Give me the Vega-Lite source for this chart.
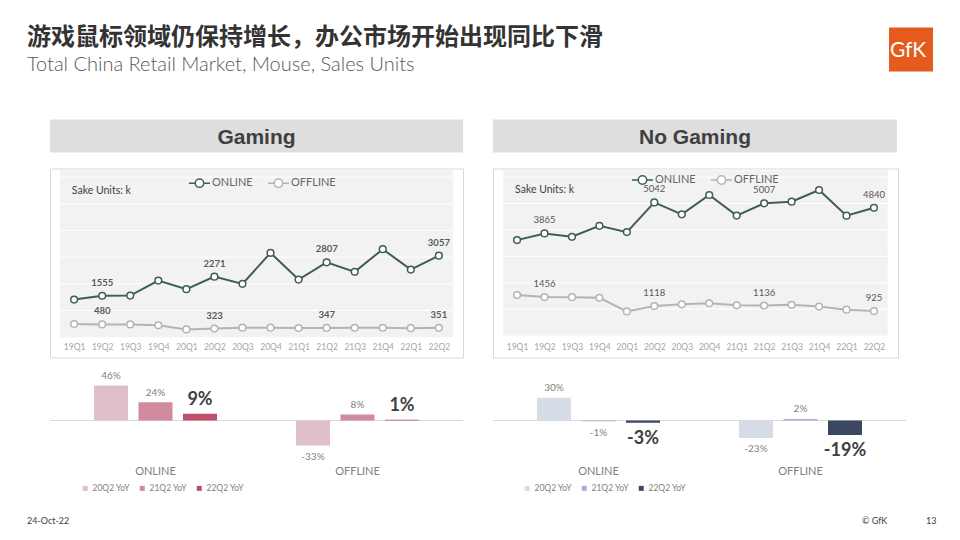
{
  "$schema": "https://vega.github.io/schema/vega-lite/v6.json",
  "background": "white",
  "padding": {"left": 27, "top": 25.5, "right": 27, "bottom": 14},
  "datasets": {
    "lines": [
      {"panel": "Gaming", "q": "19Q1", "channel": "ONLINE", "units": 1412},
      {"panel": "Gaming", "q": "19Q2", "channel": "ONLINE", "units": 1555},
      {"panel": "Gaming", "q": "19Q3", "channel": "ONLINE", "units": 1560},
      {"panel": "Gaming", "q": "19Q4", "channel": "ONLINE", "units": 2125},
      {"panel": "Gaming", "q": "20Q1", "channel": "ONLINE", "units": 1800},
      {"panel": "Gaming", "q": "20Q2", "channel": "ONLINE", "units": 2271},
      {"panel": "Gaming", "q": "20Q3", "channel": "ONLINE", "units": 2000},
      {"panel": "Gaming", "q": "20Q4", "channel": "ONLINE", "units": 3162},
      {"panel": "Gaming", "q": "21Q1", "channel": "ONLINE", "units": 2162},
      {"panel": "Gaming", "q": "21Q2", "channel": "ONLINE", "units": 2807},
      {"panel": "Gaming", "q": "21Q3", "channel": "ONLINE", "units": 2450},
      {"panel": "Gaming", "q": "21Q4", "channel": "ONLINE", "units": 3300},
      {"panel": "Gaming", "q": "22Q1", "channel": "ONLINE", "units": 2537},
      {"panel": "Gaming", "q": "22Q2", "channel": "ONLINE", "units": 3057},
      {"panel": "Gaming", "q": "19Q1", "channel": "OFFLINE", "units": 495},
      {"panel": "Gaming", "q": "19Q2", "channel": "OFFLINE", "units": 480},
      {"panel": "Gaming", "q": "19Q3", "channel": "OFFLINE", "units": 478},
      {"panel": "Gaming", "q": "19Q4", "channel": "OFFLINE", "units": 448},
      {"panel": "Gaming", "q": "20Q1", "channel": "OFFLINE", "units": 290},
      {"panel": "Gaming", "q": "20Q2", "channel": "OFFLINE", "units": 323},
      {"panel": "Gaming", "q": "20Q3", "channel": "OFFLINE", "units": 358},
      {"panel": "Gaming", "q": "20Q4", "channel": "OFFLINE", "units": 356},
      {"panel": "Gaming", "q": "21Q1", "channel": "OFFLINE", "units": 345},
      {"panel": "Gaming", "q": "21Q2", "channel": "OFFLINE", "units": 347},
      {"panel": "Gaming", "q": "21Q3", "channel": "OFFLINE", "units": 352},
      {"panel": "Gaming", "q": "21Q4", "channel": "OFFLINE", "units": 354},
      {"panel": "Gaming", "q": "22Q1", "channel": "OFFLINE", "units": 340},
      {"panel": "Gaming", "q": "22Q2", "channel": "OFFLINE", "units": 351},
      {"panel": "No Gaming", "q": "19Q1", "channel": "ONLINE", "units": 3613},
      {"panel": "No Gaming", "q": "19Q2", "channel": "ONLINE", "units": 3865},
      {"panel": "No Gaming", "q": "19Q3", "channel": "ONLINE", "units": 3739},
      {"panel": "No Gaming", "q": "19Q4", "channel": "ONLINE", "units": 4155},
      {"panel": "No Gaming", "q": "20Q1", "channel": "ONLINE", "units": 3916},
      {"panel": "No Gaming", "q": "20Q2", "channel": "ONLINE", "units": 5042},
      {"panel": "No Gaming", "q": "20Q3", "channel": "ONLINE", "units": 4591},
      {"panel": "No Gaming", "q": "20Q4", "channel": "ONLINE", "units": 5322},
      {"panel": "No Gaming", "q": "21Q1", "channel": "ONLINE", "units": 4541},
      {"panel": "No Gaming", "q": "21Q2", "channel": "ONLINE", "units": 5007},
      {"panel": "No Gaming", "q": "21Q3", "channel": "ONLINE", "units": 5070},
      {"panel": "No Gaming", "q": "21Q4", "channel": "ONLINE", "units": 5511},
      {"panel": "No Gaming", "q": "22Q1", "channel": "ONLINE", "units": 4538},
      {"panel": "No Gaming", "q": "22Q2", "channel": "ONLINE", "units": 4840},
      {"panel": "No Gaming", "q": "19Q1", "channel": "OFFLINE", "units": 1532},
      {"panel": "No Gaming", "q": "19Q2", "channel": "OFFLINE", "units": 1456},
      {"panel": "No Gaming", "q": "19Q3", "channel": "OFFLINE", "units": 1450},
      {"panel": "No Gaming", "q": "19Q4", "channel": "OFFLINE", "units": 1431},
      {"panel": "No Gaming", "q": "20Q1", "channel": "OFFLINE", "units": 914},
      {"panel": "No Gaming", "q": "20Q2", "channel": "OFFLINE", "units": 1118},
      {"panel": "No Gaming", "q": "20Q3", "channel": "OFFLINE", "units": 1181},
      {"panel": "No Gaming", "q": "20Q4", "channel": "OFFLINE", "units": 1219},
      {"panel": "No Gaming", "q": "21Q1", "channel": "OFFLINE", "units": 1143},
      {"panel": "No Gaming", "q": "21Q2", "channel": "OFFLINE", "units": 1136},
      {"panel": "No Gaming", "q": "21Q3", "channel": "OFFLINE", "units": 1161},
      {"panel": "No Gaming", "q": "21Q4", "channel": "OFFLINE", "units": 1098},
      {"panel": "No Gaming", "q": "22Q1", "channel": "OFFLINE", "units": 980},
      {"panel": "No Gaming", "q": "22Q2", "channel": "OFFLINE", "units": 925}
    ],
    "bars": [
      {"panel": "Gaming", "channel": "ONLINE", "period": "20Q2 YoY", "yoy": 0.46},
      {"panel": "Gaming", "channel": "ONLINE", "period": "21Q2 YoY", "yoy": 0.24},
      {"panel": "Gaming", "channel": "ONLINE", "period": "22Q2 YoY", "yoy": 0.09},
      {"panel": "Gaming", "channel": "OFFLINE", "period": "20Q2 YoY", "yoy": -0.33},
      {"panel": "Gaming", "channel": "OFFLINE", "period": "21Q2 YoY", "yoy": 0.08},
      {"panel": "Gaming", "channel": "OFFLINE", "period": "22Q2 YoY", "yoy": 0.01},
      {"panel": "No Gaming", "channel": "ONLINE", "period": "20Q2 YoY", "yoy": 0.30},
      {"panel": "No Gaming", "channel": "ONLINE", "period": "21Q2 YoY", "yoy": -0.01},
      {"panel": "No Gaming", "channel": "ONLINE", "period": "22Q2 YoY", "yoy": -0.03},
      {"panel": "No Gaming", "channel": "OFFLINE", "period": "20Q2 YoY", "yoy": -0.23},
      {"panel": "No Gaming", "channel": "OFFLINE", "period": "21Q2 YoY", "yoy": 0.02},
      {"panel": "No Gaming", "channel": "OFFLINE", "period": "22Q2 YoY", "yoy": -0.19}
    ]
  },
  "spacing": 16,
  "resolve": {"scale": {"color": "independent", "xOffset": "independent"}, "legend": {"color": "independent"}},
  "vconcat": [
    {
      "hconcat": [
        {
          "width": 810, "height": 76,
          "view": {"stroke": null},
          "data": {"values": []},
          "mark": "point",
          "title": {
            "text": "游戏鼠标领域仍保持增长，办公市场开始出现同比下滑",
            "subtitle": "Total China Retail Market, Mouse, Sales Units",
            "orient": "bottom", "anchor": "start", "frame": "group",
            "offset": -77.5, "dx": -23, "baseline": "top",
            "font": "Noto Sans CJK SC", "fontSize": 24, "fontWeight": "bold", "color": "#333333",
            "subtitleFont": "Lato", "subtitleFontSize": 20, "subtitleFontWeight": 300,
            "subtitleColor": "#595959", "subtitlePadding": 5
          }
        },
        {
          "width": 44, "height": 44,
          "view": {"fill": "#E55B1D", "stroke": null},
          "data": {"values": [{"brand": "GfK"}]},
          "mark": {"type": "text", "color": "white", "font": "Lato", "fontSize": 21, "dx": -3, "dy": 1.3},
          "encoding": {"text": {"field": "brand"}}
        }
      ],
      "spacing": 29,
      "resolve": {"scale": {"color": "independent", "xOffset": "independent"}, "legend": {"color": "independent"}}
    },
    {
      "hconcat": [
        {
          "vconcat": [
            {
              "width": 413, "height": 33,
              "view": {"fill": "#dedede", "stroke": null},
              "data": {"values": [{"panel": "Gaming"}]},
              "mark": {"type": "text", "font": "Liberation Sans", "fontSize": 21, "fontWeight": "bold", "color": "#404040", "dy": 1.5},
              "encoding": {"text": {"field": "panel"}}
            },
            {
              "width": 413, "height": 189,
              "view": {"stroke": "#d9d9d9", "strokeWidth": 1, "fill": "white"},
              "layer": [
                {"data": {"values": [{}]}, "mark": {"type": "rect", "color": "#f2f2f2", "xOffset": -14, "x2Offset": 14},
                 "encoding": {"x": {"datum": "19Q1", "type": "ordinal", "title": null}, "x2": {"datum": "22Q2"}, "y": {"datum": 0, "type": "quantitative", "axis": null}, "y2": {"datum": 6250}}},
                {"data": {"values": [{}]}, "mark": {"type": "rule", "color": "white", "strokeWidth": 1, "xOffset": -14, "x2Offset": 14},
                 "encoding": {"x": {"datum": "19Q1", "type": "ordinal", "title": null}, "x2": {"datum": "22Q2"}, "y": {"datum": 1000, "type": "quantitative", "axis": null}}},
                {"data": {"values": [{}]}, "mark": {"type": "rule", "color": "white", "strokeWidth": 1, "xOffset": -14, "x2Offset": 14},
                 "encoding": {"x": {"datum": "19Q1", "type": "ordinal", "title": null}, "x2": {"datum": "22Q2"}, "y": {"datum": 2000, "type": "quantitative", "axis": null}}},
                {"data": {"values": [{}]}, "mark": {"type": "rule", "color": "white", "strokeWidth": 1, "xOffset": -14, "x2Offset": 14},
                 "encoding": {"x": {"datum": "19Q1", "type": "ordinal", "title": null}, "x2": {"datum": "22Q2"}, "y": {"datum": 3000, "type": "quantitative", "axis": null}}},
                {"data": {"values": [{}]}, "mark": {"type": "rule", "color": "white", "strokeWidth": 1, "xOffset": -14, "x2Offset": 14},
                 "encoding": {"x": {"datum": "19Q1", "type": "ordinal", "title": null}, "x2": {"datum": "22Q2"}, "y": {"datum": 4000, "type": "quantitative", "axis": null}}},
                {"data": {"values": [{}]}, "mark": {"type": "rule", "color": "white", "strokeWidth": 1, "xOffset": -14, "x2Offset": 14},
                 "encoding": {"x": {"datum": "19Q1", "type": "ordinal", "title": null}, "x2": {"datum": "22Q2"}, "y": {"datum": 5000, "type": "quantitative", "axis": null}}},
                {"data": {"values": [{}]}, "mark": {"type": "rule", "color": "white", "strokeWidth": 1, "xOffset": -14, "x2Offset": 14},
                 "encoding": {"x": {"datum": "19Q1", "type": "ordinal", "title": null}, "x2": {"datum": "22Q2"}, "y": {"datum": 6000, "type": "quantitative", "axis": null}}},
                {"data": {"name": "lines"}, "transform": [{"filter": "datum.panel === 'Gaming'"}],
                 "mark": {"type": "line", "strokeWidth": 2},
                 "encoding": {
                   "x": {"field": "q", "type": "ordinal", "title": null,
                         "scale": {"type": "point", "padding": 0.86, "domain": ["19Q1","19Q2","19Q3","19Q4","20Q1","20Q2","20Q3","20Q4","21Q1","21Q2","21Q3","21Q4","22Q1","22Q2"]},
                         "axis": {"title": null, "labelFontSize": 8.5, "labelColor": "#a6a6a6", "ticks": false, "tickSize": 0, "domain": false, "grid": false, "labelPadding": 0, "offset": -15, "labelAngle": 0}},
                   "y": {"field": "units", "type": "quantitative", "scale": {"domain": [-761, 6326], "nice": false, "zero": false}, "axis": null},
                   "color": {"field": "channel", "type": "nominal",
                             "scale": {"domain": ["ONLINE", "OFFLINE"], "range": ["#3e5d53", "#b4b4b4"]},
                             "legend": {"orient": "none", "legendX": 138, "legendY": 3, "direction": "horizontal", "title": null,
                                        "symbolType": "M-1,0L-0.4,0M0.4,0L1,0M-0.4,0A0.4,0.4,0,1,1,0.4,0A0.4,0.4,0,1,1,-0.4,0",
                                        "symbolSize": 441, "symbolStrokeWidth": 1.5, "symbolFillColor": "white",
                                        "labelFontSize": 11, "labelColor": "#666666", "labelOffset": 1, "columnPadding": 12, "padding": 0}}
                 }},
                {"data": {"name": "lines"}, "transform": [{"filter": "datum.panel === 'Gaming'"}],
                 "mark": {"type": "point", "filled": false, "fill": "white", "fillOpacity": 1, "opacity": 1, "size": 45, "strokeWidth": 1.5},
                 "encoding": {
                   "x": {"field": "q", "type": "ordinal", "title": null},
                   "y": {"field": "units", "type": "quantitative", "axis": null},
                   "color": {"field": "channel", "type": "nominal"}
                 }},
                {"data": {"name": "lines"}, "transform": [{"filter": "datum.panel === 'Gaming' && indexof(['19Q2','20Q2','21Q2','22Q2'], datum.q) >= 0"}],
                 "mark": {"type": "text", "dy": -13, "fontSize": 9.5, "fontWeight": "bold", "color": "#595959"},
                 "encoding": {
                   "x": {"field": "q", "type": "ordinal", "title": null},
                   "y": {"field": "units", "type": "quantitative", "axis": null},
                   "text": {"field": "units", "type": "quantitative", "format": "d"}
                 }},
                {"data": {"values": [{"note": "Sake Units: k"}]},
                 "mark": {"type": "text", "align": "left", "baseline": "middle", "dx": -2.3, "fontSize": 10.5, "color": "#404040"},
                 "encoding": {"x": {"datum": "19Q1", "type": "ordinal", "title": null}, "y": {"datum": 5480, "type": "quantitative", "axis": null}, "text": {"field": "note"}}}
              ]
            },
            {
              "width": 413, "height": 87,
              "view": {"stroke": null},
              "layer": [
                {"data": {"values": [{}]}, "mark": {"type": "rule", "color": "#d9d9d9", "strokeWidth": 1},
                 "encoding": {"y": {"datum": 0, "type": "quantitative", "axis": null}}},
                {"data": {"name": "bars"}, "transform": [{"filter": "datum.panel === 'Gaming'"}],
                 "mark": {"type": "bar"},
                 "encoding": {
                   "x": {"field": "channel", "type": "nominal", "title": null, "scale": {"domain": ["ONLINE", "OFFLINE"], "paddingInner": 0, "paddingOuter": 0.0223},
                         "axis": {"title": null, "labelFontSize": 11, "labelColor": "#808080", "ticks": false, "tickSize": 0, "domain": false, "labelPadding": 4.5, "labelAngle": 0}},
                   "xOffset": {"field": "period", "type": "nominal", "scale": {"domain": ["20Q2 YoY", "21Q2 YoY", "22Q2 YoY"], "paddingInner": 0.236, "paddingOuter": 0.888}},
                   "y": {"field": "yoy", "type": "quantitative", "scale": {"domain": [-0.526, 0.618], "nice": false}, "axis": null},
                   "color": {"field": "period", "type": "nominal",
                             "scale": {"domain": ["20Q2 YoY", "21Q2 YoY", "22Q2 YoY"], "range": ["#dfc0c8", "#d08b9c", "#bf4e6a"]},
                             "legend": {"orient": "none", "legendX": 31, "legendY": 110.5, "direction": "horizontal", "title": null,
                                        "symbolType": "square", "symbolSize": 25, "labelFontSize": 8.5, "labelColor": "#7f7f7f",
                                        "labelOffset": 3, "columnPadding": 8, "padding": 0}}
                 }},
                {"data": {"name": "bars"}, "transform": [{"filter": "datum.panel === 'Gaming' && datum.period !== '22Q2 YoY' && datum.yoy >= 0"}],
                 "mark": {"type": "text", "dy": -9.5, "fontSize": 10, "color": "#7f7f7f"},
                 "encoding": {"x": {"field": "channel", "type": "nominal", "title": null}, "xOffset": {"field": "period", "type": "nominal"},
                              "y": {"field": "yoy", "type": "quantitative", "axis": null}, "text": {"field": "yoy", "type": "quantitative", "format": ".0%"}}},
                {"data": {"name": "bars"}, "transform": [{"filter": "datum.panel === 'Gaming' && datum.period !== '22Q2 YoY' && datum.yoy < 0"}],
                 "mark": {"type": "text", "dy": 11.5, "fontSize": 10, "color": "#7f7f7f"},
                 "encoding": {"x": {"field": "channel", "type": "nominal", "title": null}, "xOffset": {"field": "period", "type": "nominal"},
                              "y": {"field": "yoy", "type": "quantitative", "axis": null}, "text": {"field": "yoy", "type": "quantitative", "format": ".0%"}}},
                {"data": {"name": "bars"}, "transform": [{"filter": "datum.panel === 'Gaming' && datum.period === '22Q2 YoY' && datum.yoy >= 0"}],
                 "mark": {"type": "text", "dy": -13.5, "fontSize": 18, "fontWeight": "bold", "color": "#404040"},
                 "encoding": {"x": {"field": "channel", "type": "nominal", "title": null}, "xOffset": {"field": "period", "type": "nominal"},
                              "y": {"field": "yoy", "type": "quantitative", "axis": null}, "text": {"field": "yoy", "type": "quantitative", "format": ".0%"}}},
                {"data": {"name": "bars"}, "transform": [{"filter": "datum.panel === 'Gaming' && datum.period === '22Q2 YoY' && datum.yoy < 0"}],
                 "mark": {"type": "text", "dy": 16.5, "fontSize": 18, "fontWeight": "bold", "color": "#404040"},
                 "encoding": {"x": {"field": "channel", "type": "nominal", "title": null}, "xOffset": {"field": "period", "type": "nominal"},
                              "y": {"field": "yoy", "type": "quantitative", "axis": null}, "text": {"field": "yoy", "type": "quantitative", "format": ".0%"}}}
              ]
            }
          ],
          "spacing": 16,
          "bounds": "flush",
          "resolve": {"scale": {"color": "independent", "xOffset": "independent"}, "legend": {"color": "independent"}}
        },
        {
          "vconcat": [
            {
              "width": 404, "height": 33,
              "view": {"fill": "#dedede", "stroke": null},
              "data": {"values": [{"panel": "No Gaming"}]},
              "mark": {"type": "text", "font": "Liberation Sans", "fontSize": 21, "fontWeight": "bold", "color": "#404040", "dy": 1.5},
              "encoding": {"text": {"field": "panel"}}
            },
            {
              "width": 405, "height": 189,
              "view": {"stroke": "#d9d9d9", "strokeWidth": 1, "fill": "white"},
              "layer": [
                {"data": {"values": [{}]}, "mark": {"type": "rect", "color": "#f2f2f2", "xOffset": -13.7, "x2Offset": 13.7},
                 "encoding": {"x": {"datum": "19Q1", "type": "ordinal", "title": null}, "x2": {"datum": "22Q2"}, "y": {"datum": 0, "type": "quantitative", "axis": null}, "y2": {"datum": 6250}}},
                {"data": {"values": [{}]}, "mark": {"type": "rule", "color": "white", "strokeWidth": 1, "xOffset": -13.7, "x2Offset": 13.7},
                 "encoding": {"x": {"datum": "19Q1", "type": "ordinal", "title": null}, "x2": {"datum": "22Q2"}, "y": {"datum": 1000, "type": "quantitative", "axis": null}}},
                {"data": {"values": [{}]}, "mark": {"type": "rule", "color": "white", "strokeWidth": 1, "xOffset": -13.7, "x2Offset": 13.7},
                 "encoding": {"x": {"datum": "19Q1", "type": "ordinal", "title": null}, "x2": {"datum": "22Q2"}, "y": {"datum": 2000, "type": "quantitative", "axis": null}}},
                {"data": {"values": [{}]}, "mark": {"type": "rule", "color": "white", "strokeWidth": 1, "xOffset": -13.7, "x2Offset": 13.7},
                 "encoding": {"x": {"datum": "19Q1", "type": "ordinal", "title": null}, "x2": {"datum": "22Q2"}, "y": {"datum": 3000, "type": "quantitative", "axis": null}}},
                {"data": {"values": [{}]}, "mark": {"type": "rule", "color": "white", "strokeWidth": 1, "xOffset": -13.7, "x2Offset": 13.7},
                 "encoding": {"x": {"datum": "19Q1", "type": "ordinal", "title": null}, "x2": {"datum": "22Q2"}, "y": {"datum": 4000, "type": "quantitative", "axis": null}}},
                {"data": {"values": [{}]}, "mark": {"type": "rule", "color": "white", "strokeWidth": 1, "xOffset": -13.7, "x2Offset": 13.7},
                 "encoding": {"x": {"datum": "19Q1", "type": "ordinal", "title": null}, "x2": {"datum": "22Q2"}, "y": {"datum": 5000, "type": "quantitative", "axis": null}}},
                {"data": {"values": [{}]}, "mark": {"type": "rule", "color": "white", "strokeWidth": 1, "xOffset": -13.7, "x2Offset": 13.7},
                 "encoding": {"x": {"datum": "19Q1", "type": "ordinal", "title": null}, "x2": {"datum": "22Q2"}, "y": {"datum": 6000, "type": "quantitative", "axis": null}}},
                {"data": {"name": "lines"}, "transform": [{"filter": "datum.panel === 'No Gaming'"}],
                 "mark": {"type": "line", "strokeWidth": 2},
                 "encoding": {
                   "x": {"field": "q", "type": "ordinal", "title": null,
                         "scale": {"type": "point", "padding": 0.876, "domain": ["19Q1","19Q2","19Q3","19Q4","20Q1","20Q2","20Q3","20Q4","21Q1","21Q2","21Q3","21Q4","22Q1","22Q2"]},
                         "axis": {"title": null, "labelFontSize": 8.5, "labelColor": "#a6a6a6", "ticks": false, "tickSize": 0, "domain": false, "grid": false, "labelPadding": 0, "offset": -15, "labelAngle": 0}},
                   "y": {"field": "units", "type": "quantitative", "scale": {"domain": [-833, 6326], "nice": false, "zero": false}, "axis": null},
                   "color": {"field": "channel", "type": "nominal",
                             "scale": {"domain": ["ONLINE", "OFFLINE"], "range": ["#3e5d53", "#b4b4b4"]},
                             "legend": {"orient": "none", "legendX": 138, "legendY": -0.2, "direction": "horizontal", "title": null,
                                        "symbolType": "M-1,0L-0.4,0M0.4,0L1,0M-0.4,0A0.4,0.4,0,1,1,0.4,0A0.4,0.4,0,1,1,-0.4,0",
                                        "symbolSize": 441, "symbolStrokeWidth": 1.5, "symbolFillColor": "white",
                                        "labelFontSize": 11, "labelColor": "#666666", "labelOffset": 1, "columnPadding": 12, "padding": 0}}
                 }},
                {"data": {"name": "lines"}, "transform": [{"filter": "datum.panel === 'No Gaming'"}],
                 "mark": {"type": "point", "filled": false, "fill": "white", "fillOpacity": 1, "opacity": 1, "size": 45, "strokeWidth": 1.5},
                 "encoding": {
                   "x": {"field": "q", "type": "ordinal", "title": null},
                   "y": {"field": "units", "type": "quantitative", "axis": null},
                   "color": {"field": "channel", "type": "nominal"}
                 }},
                {"data": {"name": "lines"}, "transform": [{"filter": "datum.panel === 'No Gaming' && indexof(['19Q2','20Q2','21Q2','22Q2'], datum.q) >= 0"}],
                 "mark": {"type": "text", "dy": -13, "fontSize": 9.5, "color": "#595959"},
                 "encoding": {
                   "x": {"field": "q", "type": "ordinal", "title": null},
                   "y": {"field": "units", "type": "quantitative", "axis": null},
                   "text": {"field": "units", "type": "quantitative", "format": "d"}
                 }},
                {"data": {"values": [{"note": "Sake Units: k"}]},
                 "mark": {"type": "text", "align": "left", "baseline": "middle", "dx": -2, "fontSize": 10.5, "color": "#404040"},
                 "encoding": {"x": {"datum": "19Q1", "type": "ordinal", "title": null}, "y": {"datum": 5519, "type": "quantitative", "axis": null}, "text": {"field": "note"}}}
              ]
            },
            {
              "width": 413, "height": 87,
              "view": {"stroke": null},
              "layer": [
                {"data": {"values": [{}]}, "mark": {"type": "rule", "color": "#d9d9d9", "strokeWidth": 1},
                 "encoding": {"y": {"datum": 0, "type": "quantitative", "axis": null}}},
                {"data": {"name": "bars"}, "transform": [{"filter": "datum.panel === 'No Gaming'"}],
                 "mark": {"type": "bar"},
                 "encoding": {
                   "x": {"field": "channel", "type": "nominal", "title": null, "scale": {"domain": ["ONLINE", "OFFLINE"], "paddingInner": 0, "paddingOuter": 0.0223},
                         "axis": {"title": null, "labelFontSize": 11, "labelColor": "#808080", "ticks": false, "tickSize": 0, "domain": false, "labelPadding": 4.5, "labelAngle": 0}},
                   "xOffset": {"field": "period", "type": "nominal", "scale": {"domain": ["20Q2 YoY", "21Q2 YoY", "22Q2 YoY"], "paddingInner": 0.236, "paddingOuter": 0.888}},
                   "y": {"field": "yoy", "type": "quantitative", "scale": {"domain": [-0.526, 0.618], "nice": false}, "axis": null},
                   "color": {"field": "period", "type": "nominal",
                             "scale": {"domain": ["20Q2 YoY", "21Q2 YoY", "22Q2 YoY"], "range": ["#d6dce8", "#a5b2cb", "#3b4763"]},
                             "legend": {"orient": "none", "legendX": 30, "legendY": 110.5, "direction": "horizontal", "title": null,
                                        "symbolType": "square", "symbolSize": 25, "labelFontSize": 8.5, "labelColor": "#7f7f7f",
                                        "labelOffset": 3, "columnPadding": 8, "padding": 0}}
                 }},
                {"data": {"name": "bars"}, "transform": [{"filter": "datum.panel === 'No Gaming' && datum.period !== '22Q2 YoY' && datum.yoy >= 0"}],
                 "mark": {"type": "text", "dy": -9.5, "fontSize": 10, "color": "#7f7f7f"},
                 "encoding": {"x": {"field": "channel", "type": "nominal", "title": null}, "xOffset": {"field": "period", "type": "nominal"},
                              "y": {"field": "yoy", "type": "quantitative", "axis": null}, "text": {"field": "yoy", "type": "quantitative", "format": ".0%"}}},
                {"data": {"name": "bars"}, "transform": [{"filter": "datum.panel === 'No Gaming' && datum.period !== '22Q2 YoY' && datum.yoy < 0"}],
                 "mark": {"type": "text", "dy": 11.5, "fontSize": 10, "color": "#7f7f7f"},
                 "encoding": {"x": {"field": "channel", "type": "nominal", "title": null}, "xOffset": {"field": "period", "type": "nominal"},
                              "y": {"field": "yoy", "type": "quantitative", "axis": null}, "text": {"field": "yoy", "type": "quantitative", "format": ".0%"}}},
                {"data": {"name": "bars"}, "transform": [{"filter": "datum.panel === 'No Gaming' && datum.period === '22Q2 YoY' && datum.yoy >= 0"}],
                 "mark": {"type": "text", "dy": -13.5, "fontSize": 18, "fontWeight": "bold", "color": "#404040"},
                 "encoding": {"x": {"field": "channel", "type": "nominal", "title": null}, "xOffset": {"field": "period", "type": "nominal"},
                              "y": {"field": "yoy", "type": "quantitative", "axis": null}, "text": {"field": "yoy", "type": "quantitative", "format": ".0%"}}},
                {"data": {"name": "bars"}, "transform": [{"filter": "datum.panel === 'No Gaming' && datum.period === '22Q2 YoY' && datum.yoy < 0"}],
                 "mark": {"type": "text", "dy": 16.5, "fontSize": 18, "fontWeight": "bold", "color": "#404040"},
                 "encoding": {"x": {"field": "channel", "type": "nominal", "title": null}, "xOffset": {"field": "period", "type": "nominal"},
                              "y": {"field": "yoy", "type": "quantitative", "axis": null}, "text": {"field": "yoy", "type": "quantitative", "format": ".0%"}}}
              ]
            }
          ],
          "spacing": 16,
          "bounds": "flush",
          "resolve": {"scale": {"color": "independent", "xOffset": "independent"}, "legend": {"color": "independent"}}
        }
      ],
      "spacing": 28,
      "resolve": {"scale": {"color": "independent", "xOffset": "independent"}, "legend": {"color": "independent"}}
    },
    {
      "hconcat": [
        {
          "width": 783, "height": 7,
          "view": {"stroke": null},
          "data": {"values": []},
          "mark": "point",
          "title": {"text": "24-Oct-22", "orient": "bottom", "anchor": "start", "frame": "group", "offset": 0, "dx": -23,
                    "baseline": "top", "font": "Lato", "fontSize": 9, "fontWeight": "normal", "color": "#404040"}
        },
        {
          "width": 35, "height": 7,
          "view": {"stroke": null},
          "data": {"values": []},
          "mark": "point",
          "title": {"text": "© GfK", "orient": "bottom", "anchor": "start", "frame": "group", "offset": 0,
                    "baseline": "top", "font": "Lato", "fontSize": 9, "fontWeight": "normal", "color": "#404040"}
        },
        {
          "width": 7, "height": 7,
          "view": {"stroke": null},
          "data": {"values": []},
          "mark": "point",
          "title": {"text": "13", "orient": "bottom", "anchor": "start", "frame": "group", "offset": 0,
                    "baseline": "top", "font": "Lato", "fontSize": 9, "fontWeight": "normal", "color": "#404040"}
        }
      ],
      "spacing": 29,
      "resolve": {"scale": {"color": "independent", "xOffset": "independent"}, "legend": {"color": "independent"}}
    }
  ],
  "config": {
    "font": "Lato",
    "view": {"stroke": null},
    "axisPoint": {"labelFontSize": 8.5, "labelColor": "#a6a6a6", "ticks": false, "tickSize": 0, "domain": false, "grid": false, "labelPadding": 0, "labelAngle": 0},
    "axisBand": {"labelFontSize": 11, "labelColor": "#808080", "ticks": false, "tickSize": 0, "domain": false, "grid": false, "labelPadding": 4.5, "labelAngle": 0},
    "locale": {"number": {"decimal": ".", "thousands": ",", "grouping": [3], "currency": ["$", ""], "minus": "-"}}
  }
}
